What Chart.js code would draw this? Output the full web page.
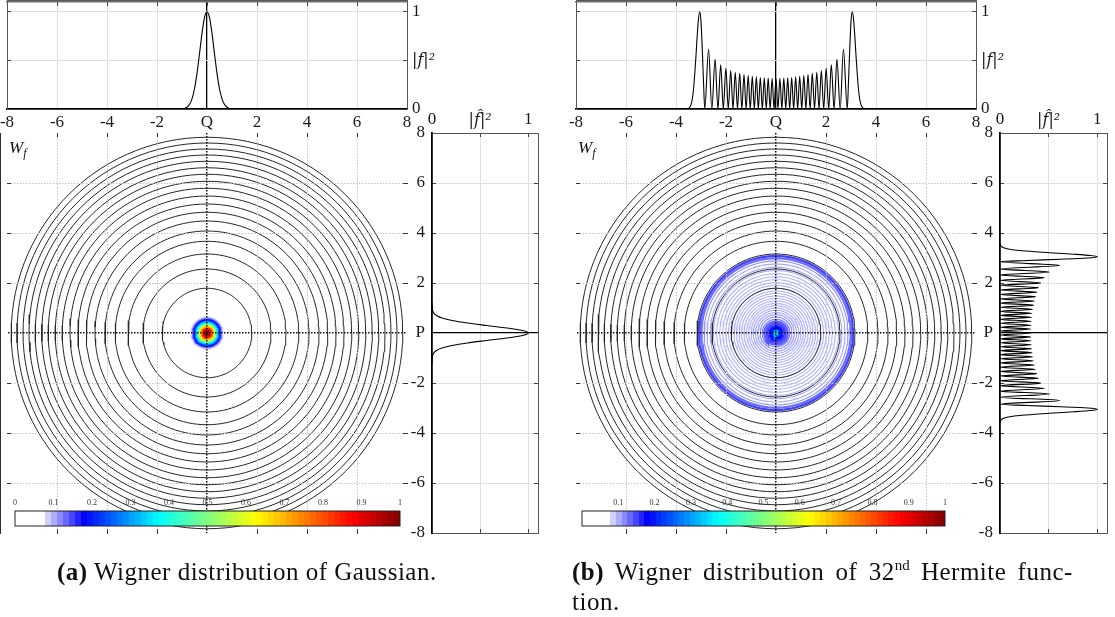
<!DOCTYPE html>
<html>
<head>
<meta charset="utf-8">
<script src="https://cdn.jsdelivr.net/npm/chart.js@4/dist/chart.umd.min.js"></script>
<style>
  html, body { margin:0; padding:0; background:#fff; }
  body { position:relative; width:1115px; height:617px; overflow:hidden; }
  canvas { position:absolute; left:0; top:0; }
  .cap { position:absolute; font-family:"Liberation Serif","Times New Roman",serif; font-size:25px; letter-spacing:0.5px; line-height:30px; color:#111; white-space:nowrap; }
  .cap sup { font-size:15px; line-height:0; vertical-align:10px; letter-spacing:0; }
  .just { word-spacing:4.5px; }
</style>
</head>
<body>
<canvas id="aMain" width="1115" height="617"></canvas>
<canvas id="bMain" width="1115" height="617"></canvas>
<canvas id="aTop" width="1115" height="617"></canvas>
<canvas id="bTop" width="1115" height="617"></canvas>
<canvas id="aRight" width="1115" height="617"></canvas>
<canvas id="bRight" width="1115" height="617"></canvas>
<canvas id="aBar" width="1115" height="617"></canvas>
<canvas id="bBar" width="1115" height="617"></canvas>
<div class="cap" style="left:57px; top:557px;"><b>(a)</b> Wigner distribution of Gaussian.</div>
<div class="cap" style="left:572px; top:557px;"><span class="just"><b>(b)</b> Wigner distribution of 32<sup>nd</sup> Hermite func-</span><br>tion.</div>
<script>
// ================= DATA =================
const qMin = -8, qMax = 8, qStep = 2;
const densMin = 0, densMax = 1.1, densStep = 0.5;
const colorbarMin = 0, colorbarMax = 1, colorbarStep = 0.1;

// radii of the black level circles (same in both panels)
const levelRadius = [1.79, 2.56, 3.16, 3.67, 4.08, 4.48, 4.83, 5.16, 5.48, 5.79, 6.07, 6.35, 6.61, 6.87, 7.12, 7.36, 7.60, 7.83];

// (a) Gaussian: |f|^2 and |f^|^2 profile
const gaussPos  = [-1.2, -1.0, -0.9, -0.8, -0.7, -0.6, -0.5, -0.4, -0.3, -0.2, -0.1, 0, 0.1, 0.2, 0.3, 0.4, 0.5, 0.6, 0.7, 0.8, 0.9, 1.0, 1.2];
const gaussDens = [0, 0.002, 0.006, 0.018, 0.046, 0.104, 0.208, 0.366, 0.568, 0.778, 0.939, 1, 0.939, 0.778, 0.568, 0.366, 0.208, 0.104, 0.046, 0.018, 0.006, 0.002, 0];

// (a) Wigner distribution: radial profile (radius, value)
const gaussRingRadius = [0.64, 0.60, 0.56, 0.52, 0.48, 0.44, 0.40, 0.36, 0.32, 0.28, 0.24, 0.20, 0.16, 0.12, 0.08, 0.04];
const gaussRingValue  = [0.076, 0.104, 0.139, 0.18, 0.235, 0.296, 0.366, 0.443, 0.526, 0.611, 0.696, 0.777, 0.851, 0.913, 0.961, 0.99];

// (b) 32nd Hermite function: |f|^2 and |f^|^2 profile (peaks and zeros)
const hermPos = [-3.6, -3.5, -3.45, -3.4, -3.35, -3.3, -3.25, -3.2, -3.15, -3.1, -3.05, -3.0, -2.95, -2.9, -2.85,
  -2.697, -2.567, -2.437, -2.324, -2.212, -2.108, -2.005, -1.908, -1.812, -1.721, -1.63, -1.541, -1.452, -1.366, -1.28,
  -1.196, -1.112, -1.03, -0.948, -0.867, -0.786, -0.706, -0.627, -0.547, -0.468, -0.39, -0.312, -0.234, -0.156, -0.078,
  0,
  0.078, 0.156, 0.234, 0.312, 0.39, 0.468, 0.547, 0.627, 0.706, 0.786, 0.867, 0.948, 1.03, 1.112, 1.196,
  1.28, 1.366, 1.452, 1.541, 1.63, 1.721, 1.812, 1.908, 2.005, 2.108, 2.212, 2.324, 2.437, 2.567, 2.697,
  2.85, 2.9, 2.95, 3.0, 3.05, 3.1, 3.15, 3.2, 3.25, 3.3, 3.35, 3.4, 3.45, 3.5, 3.6];
const hermDens = [0, 0.006, 0.018, 0.045, 0.1, 0.2, 0.36, 0.55, 0.76, 0.93, 1.0, 0.9, 0.62, 0.28, 0,
  0.615, 0, 0.51, 0, 0.455, 0, 0.418, 0, 0.395, 0, 0.378, 0, 0.366, 0, 0.355,
  0, 0.345, 0, 0.337, 0, 0.33, 0, 0.324, 0, 0.32, 0, 0.317, 0, 0.316, 0,
  0.315,
  0, 0.316, 0, 0.317, 0, 0.32, 0, 0.324, 0, 0.33, 0, 0.337, 0, 0.345, 0,
  0.355, 0, 0.366, 0, 0.378, 0, 0.395, 0, 0.418, 0, 0.455, 0, 0.51, 0, 0.615,
  0, 0.28, 0.62, 0.9, 1.0, 0.93, 0.76, 0.55, 0.36, 0.2, 0.1, 0.045, 0.018, 0.006, 0];

// (b) Wigner distribution: visible rings (radius, value)
const hermRingRadius = [0.04, 0.08, 0.13, 0.2, 0.28, 0.37, 0.46, 0.55, 0.64, 0.73, 0.82, 0.91, 1.0, 1.09, 1.18,
  1.28, 1.38, 1.48, 1.58, 1.68, 1.79, 1.9, 2.01, 2.13, 2.25, 2.37, 2.5, 2.63, 2.76, 2.88, 2.99, 3.08];
const hermRingValue = [0.38, 0.3, 0.22, 0.18, 0.16, 0.145, 0.135, 0.125, 0.115, 0.11, 0.105, 0.105, 0.1, 0.1, 0.1,
  0.1, 0.1, 0.1, 0.1, 0.1, 0.1, 0.1, 0.1, 0.1, 0.1, 0.1, 0.1, 0.105, 0.105, 0.115, 0.13, 0.15];

// ================= HELPERS =================
const W = 1115, H = 617;
const CLEAR = 'rgba(0,0,0,0)', GRID = '#e0e0e0', DOTGRID = '#c4c4c4';
Chart.defaults.font.family = '"Liberation Serif","DejaVu Serif",serif';
Chart.defaults.color = '#1a1a1a';
const TF = {size: 17};
const MATHF = {family: '"DejaVu Serif"', style: 'italic', size: 16};
const labelFont = c => (tv(c) === 0.5 ? MATHF : TF);

function sized(n) {
  return s => {
    if (s.isHorizontal()) s.height = n; else s.width = n;
    s.paddingLeft = 0; s.paddingRight = 0; s.paddingTop = 0; s.paddingBottom = 0;
  };
}
function pad(a, box) {
  box = box || {};
  return {left: a.l - (box.left || 0), top: a.t - (box.top || 0),
          right: W - a.r - (box.right || 0), bottom: H - a.b - (box.bottom || 0)};
}
function tv(c) { return c && c.tick ? c.tick.value : NaN; }

const cmapStops = [[0,255,255,255],[0.07,255,255,255],[0.075,232,232,255],[0.18,0,0,255],[0.375,0,255,255],
                   [0.5,128,255,128],[0.625,255,255,0],[0.875,255,0,0],[1,128,0,0]];
function cmap(v) {
  v = Math.max(0, Math.min(1, v));
  for (let i = 1; i < cmapStops.length; i++) {
    const a = cmapStops[i-1], b = cmapStops[i];
    if (v <= b[0]) {
      const t = (v - a[0]) / ((b[0] - a[0]) || 1);
      return 'rgb(' + Math.round(a[1] + t*(b[1]-a[1])) + ',' + Math.round(a[2] + t*(b[2]-a[2])) + ',' + Math.round(a[3] + t*(b[3]-a[3])) + ')';
    }
  }
  return 'rgb(128,0,0)';
}
function circle(r) {
  const pts = [];
  for (let k = 0; k <= 120; k++) { const t = k * Math.PI / 60; pts.push({x: r*Math.cos(t), y: r*Math.sin(t)}); }
  return pts;
}
function base(area, box) {
  return {responsive:false, animation:false, events:[], devicePixelRatio:1,
          layout:{padding:pad(area, box)}, plugins:{legend:{display:false}, tooltip:{enabled:false}}};
}

const wLabel = {id:'wlabel', afterDraw(ch) {
  const a = ch.chartArea, c = ch.ctx;
  c.save(); c.fillStyle = '#111'; c.textBaseline = 'alphabetic';
  c.font = 'italic 17px "Liberation Serif"'; c.fillText('W', a.left + 2, a.top + 20);
  const w = c.measureText('W').width;
  c.font = 'italic 12px "Liberation Serif"'; c.fillText('f', a.left + 2 + w, a.top + 24);
  c.restore();
}};
const frame = {id:'frame', afterDraw(ch) {
  const a = ch.chartArea, c = ch.ctx;
  c.save(); c.strokeStyle = '#222'; c.lineWidth = 1;
  c.strokeRect(a.left, a.top, a.right - a.left, a.bottom - a.top); c.restore();
}};

// ---- top density plot ----
function makeTop(id, area, pos, dens) {
  const data = pos.map((q, i) => ({x: q, y: dens[i]}));
  const sideTick = c => (tv(c) === 0 ? CLEAR : '#444');
  new Chart(document.getElementById(id), {
    type: 'line',
    data: {datasets: [{data, xAxisID:'x', yAxisID:'y', borderColor:'#000', borderWidth:1.1, pointRadius:0, fill:false, cubicInterpolationMode:'monotone'}]},
    options: Object.assign(base(area, {bottom:24, right:44}), {scales: {
      x: {type:'linear', axis:'x', position:'bottom', min:qMin, max:qMax, afterFit:sized(24),
          ticks:{stepSize:qStep, autoSkip:false, maxRotation:0, minRotation:0, padding:7, font:TF, callback: v => v === 0 ? 'Q' : String(v)},
          grid:{color: c => { const v = tv(c); return v === 0 ? '#000' : (Math.abs(v) === 8 ? CLEAR : GRID); },
                lineWidth: c => tv(c) === 0 ? 1.3 : 1, tickLength:-4, tickColor:CLEAR},
          border:{display:true, color:'#000', width:1.8}},
      xt: {type:'linear', axis:'x', position:'top', min:qMin, max:qMax, afterFit:sized(0),
          ticks:{display:false, stepSize:qStep},
          grid:{drawOnChartArea:false, tickLength:-4, tickColor: c => (Math.abs(tv(c)) === 8 ? CLEAR : '#444')},
          border:{display:true, color:'#707070', width:1.5}},
      y: {type:'linear', axis:'y', position:'right', min:densMin, max:densMax, afterFit:sized(44),
          ticks:{stepSize:densStep, includeBounds:false, padding:9, font:labelFont, callback: v => v === 0 ? '0' : (v === 1 ? '1' : '|f|²')},
          grid:{color: c => (tv(c) === 0 ? CLEAR : GRID), tickLength:-4, tickColor:sideTick},
          border:{display:true, color:'#555', width:1}},
      yl: {type:'linear', axis:'y', position:'left', min:densMin, max:densMax, afterFit:sized(0),
          ticks:{display:false, stepSize:densStep, includeBounds:false},
          grid:{drawOnChartArea:false, tickLength:-4, tickColor:sideTick},
          border:{display:true, color:'#555', width:1}}
    }})
  });
}

// ---- right density plot (vertical) ----
function makeRight(id, area, pos, dens) {
  const data = pos.map((p, i) => ({x: dens[i], y: p}));
  const yTick = c => { const v = tv(c); return (v === 0 || Math.abs(v) === 8) ? CLEAR : '#444'; };
  const xTick = c => (tv(c) === 0 ? CLEAR : '#444');
  new Chart(document.getElementById(id), {
    type: 'line',
    data: {datasets: [{data, xAxisID:'x', yAxisID:'y', borderColor:'#000', borderWidth:1.1, pointRadius:0, fill:false, cubicInterpolationMode:'monotone'}]},
    options: Object.assign(base(area, {top:32, left:32}), {indexAxis:'y', scales: {
      x: {type:'linear', axis:'x', position:'top', min:densMin, max:densMax, afterFit:sized(32),
          ticks:{stepSize:densStep, includeBounds:false, autoSkip:false, maxRotation:0, padding:7, font:labelFont,
                 callback: v => v === 0 ? '0' : (v === 1 ? '1' : '|f\u0302|²')},
          grid:{color: c => (tv(c) === 0 ? CLEAR : GRID), tickLength:-4, tickColor:xTick},
          border:{display:true, color:'#555', width:1}},
      xb: {type:'linear', axis:'x', position:'bottom', min:densMin, max:densMax, afterFit:sized(0),
          ticks:{display:false, stepSize:densStep, includeBounds:false},
          grid:{drawOnChartArea:false, tickLength:-4, tickColor:xTick},
          border:{display:true, color:'#555', width:1}},
      y: {type:'linear', axis:'y', position:'left', min:qMin, max:qMax, afterFit:sized(32),
          ticks:{stepSize:qStep, autoSkip:false, padding:11, font:TF, callback: v => v === 0 ? 'P' : String(v)},
          grid:{color: c => { const v = tv(c); return v === 0 ? '#000' : (Math.abs(v) === 8 ? CLEAR : GRID); },
                lineWidth: c => tv(c) === 0 ? 1.3 : 1, tickLength:-4, tickColor:yTick},
          border:{display:true, color:'#000', width:1.8}},
      yr: {type:'linear', axis:'y', position:'right', min:qMin, max:qMax, afterFit:sized(0),
          ticks:{display:false, stepSize:qStep},
          grid:{drawOnChartArea:false, tickLength:-4, tickColor:yTick},
          border:{display:true, color:'#555', width:1}}
    }})
  });
}

// ---- main Wigner plot ----
function makeMain(id, area, ringR, ringV, widthRule) {
  const ds = [];
  ringR.forEach((r, i) => ds.push({data:circle(r), xAxisID:'x', yAxisID:'y', borderColor:cmap(ringV[i]),
      borderWidth:widthRule(r, ringV[i]), pointRadius:0, fill:false, order:100 + Math.round(r*100)}));
  levelRadius.forEach(r => ds.push({data:circle(r), xAxisID:'x', yAxisID:'y', borderColor:'#262626',
      borderWidth:1, pointRadius:0, fill:false, order:0}));
  const gcol = c => { const v = tv(c); return v === 0 ? '#111' : (Math.abs(v) === 8 ? CLEAR : DOTGRID); };
  const glw = c => (tv(c) === 0 ? 1.5 : 1);
  const tcol = c => { const v = tv(c); return (v === 0 || Math.abs(v) === 8) ? CLEAR : '#333'; };
  const axis = (ax, position, onArea) => ({type:'linear', axis:ax, position, min:qMin, max:qMax, afterFit:sized(0),
      ticks:{display:false, stepSize:qStep},
      grid:{z:1, drawOnChartArea:onArea, color:gcol, lineWidth:glw, tickLength:-4, tickColor:tcol, tickWidth:1},
      border:{display:true, color:'#222', width:1, dash:[1.5, 1.5]}});
  new Chart(document.getElementById(id), {
    type: 'line',
    data: {datasets: ds},
    options: Object.assign(base(area), {scales: {
      x: axis('x', 'bottom', true), xt: axis('x', 'top', false),
      y: axis('y', 'left', true), yr: axis('y', 'right', false)}}),
    plugins: [wLabel]
  });
}

// ---- colorbar ----
function colorbarGradient(chart) {
  const a = chart.chartArea;
  if (!a) return '#fff';
  const g = chart.ctx.createLinearGradient(a.left, 0, a.right, 0);
  const n = 64;
  for (let i = 0; i < n; i++) {
    const col = cmap((i + 0.5) / n);
    g.addColorStop(i / n, col); g.addColorStop((i + 1) / n, col);
  }
  return g;
}
function makeBar(id, area, showZero) {
  new Chart(document.getElementById(id), {
    type: 'bar',
    data: {labels: [''], datasets: [{data: [[colorbarMin, colorbarMax]], backgroundColor: c => colorbarGradient(c.chart),
           borderWidth:0, barPercentage:1, categoryPercentage:1}]},
    options: Object.assign(base(area, {top:14}), {indexAxis:'y', scales: {
      x: {type:'linear', position:'top', min:colorbarMin, max:colorbarMax, afterFit:sized(14),
          ticks:{stepSize:colorbarStep, autoSkip:false, maxRotation:0, minRotation:0, padding:6, font:{size:8}, color:'#333',
                 callback: v => { const r = Math.round(v*10)/10; if (r === 0) return showZero ? '0' : ''; return r === 1 ? '1' : r.toFixed(1); }},
          grid:{drawOnChartArea:false, tickLength:-3, tickColor: c => { const v = tv(c); return (v < 0.01 || v > 0.99) ? CLEAR : '#333'; }},
          border:{display:false}},
      y: {type:'category', display:false}
    }}),
    plugins: [frame]
  });
}

// ================= BUILD =================
const A = {top:{l:7,t:2,r:407,b:109}, main:{l:7,t:133,r:407,b:533}, right:{l:432,t:133,r:538,b:533}, bar:{l:15,t:511,r:400,b:526}};
const B = {top:{l:576,t:2,r:976,b:109}, main:{l:576,t:133,r:976,b:533}, right:{l:1000,t:133,r:1107,b:533}, bar:{l:582,t:511,r:945,b:526}};

makeMain('aMain', A.main, gaussRingRadius, gaussRingValue, () => 1.7);
makeMain('bMain', B.main, hermRingRadius, hermRingValue, (r, v) => (r < 0.1 ? 2 : (v >= 0.13 ? 2.4 : 1.1)));
makeTop('aTop', A.top, gaussPos, gaussDens);
makeTop('bTop', B.top, hermPos, hermDens);
makeRight('aRight', A.right, gaussPos, gaussDens);
makeRight('bRight', B.right, hermPos, hermDens);
makeBar('aBar', A.bar, true);
makeBar('bBar', B.bar, false);
</script>
</body>
</html>
